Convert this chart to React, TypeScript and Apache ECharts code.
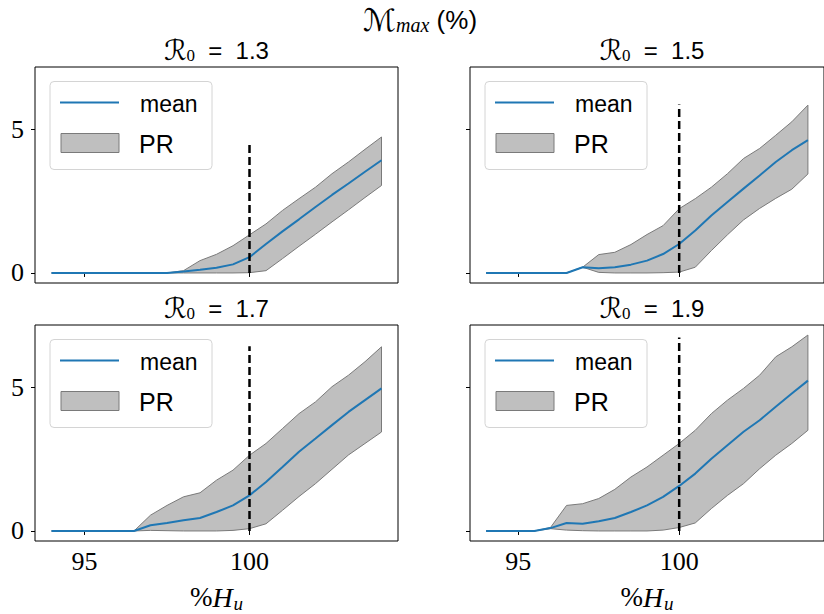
import React, { useEffect, useRef } from "react";
import * as echarts from "echarts";

// x values: %H_u
const xs = [94, 94.5, 95, 95.5, 96, 96.5, 97, 97.5, 98, 98.5, 99, 99.5, 100, 100.5, 101, 101.5, 102, 102.5, 103, 103.5, 104];

// R0 = 1.3
const mean13 = [0, 0, 0, 0, 0, 0, 0, 0, 0.05, 0.11, 0.18, 0.3, 0.55, 1.01, 1.45, 1.87, 2.3, 2.72, 3.12, 3.53, 3.93];
const hi13 = [0, 0, 0, 0, 0, 0, 0, 0, 0.08, 0.43, 0.65, 0.95, 1.33, 1.71, 2.18, 2.59, 2.99, 3.46, 3.87, 4.31, 4.74];
const lo13 = [0, 0, 0, 0, 0, 0, 0, 0, 0, 0, 0, 0, 0.01, 0.08, 0.5, 0.93, 1.35, 1.78, 2.2, 2.63, 3.05];

// R0 = 1.5
const mean15 = [0, 0, 0, 0, 0, 0, 0.2, 0.16, 0.2, 0.29, 0.43, 0.66, 1.01, 1.48, 2.0, 2.47, 2.94, 3.4, 3.87, 4.28, 4.63];
const hi15 = [0, 0, 0, 0, 0, 0, 0.2, 0.64, 0.72, 0.99, 1.34, 1.65, 2.24, 2.59, 2.99, 3.46, 3.99, 4.34, 4.8, 5.27, 5.85];
const lo15 = [0, 0, 0, 0, 0, 0, 0.2, 0.02, 0, 0, 0, 0.01, 0.03, 0.2, 0.78, 1.33, 1.85, 2.25, 2.6, 2.92, 3.45];

// R0 = 1.7
const mean17 = [0, 0, 0, 0, 0, 0, 0.2, 0.28, 0.37, 0.45, 0.66, 0.89, 1.24, 1.71, 2.23, 2.76, 3.22, 3.69, 4.15, 4.56, 4.97];
const hi17 = [0, 0, 0, 0, 0, 0, 0.55, 0.89, 1.19, 1.33, 1.77, 2.12, 2.64, 3.05, 3.57, 4.09, 4.5, 5.03, 5.43, 5.9, 6.42];
const lo17 = [0, 0, 0, 0, 0, 0, 0.02, 0.01, 0, 0, 0, 0.02, 0.08, 0.25, 0.72, 1.2, 1.65, 2.15, 2.65, 3.05, 3.45];

// R0 = 1.9
const mean19 = [0, 0, 0, 0, 0.1, 0.28, 0.25, 0.34, 0.45, 0.66, 0.89, 1.19, 1.57, 2.0, 2.52, 2.99, 3.46, 3.86, 4.33, 4.79, 5.24];
const hi19 = [0, 0, 0, 0, 0.12, 0.89, 0.95, 1.13, 1.45, 1.88, 2.23, 2.64, 3.05, 3.51, 4.09, 4.56, 4.97, 5.43, 6.07, 6.42, 6.83];
const lo19 = [0, 0, 0, 0, 0.08, 0.03, 0.01, 0, 0, 0, 0, 0.03, 0.12, 0.28, 0.78, 1.24, 1.65, 2.17, 2.64, 3.05, 3.51];

const r0Labels = ["1.3", "1.5", "1.7", "1.9"];
const means = [mean13, mean15, mean17, mean19];
const highs = [hi13, hi15, hi17, hi19];
const lows = [lo13, lo15, lo17, lo19];
const vlineX = 100;
const vlineTop = [4.6, 5.87, 6.44, 6.74];

const xTicks = [95, 100];
const yTicks = [0, 5];

const grids = [
  { left: 35, top: 67, width: 363, height: 216 },
  { left: 470, top: 67, width: 364, height: 216 },
  { left: 35, top: 325, width: 363, height: 217 },
  { left: 470, top: 325, width: 364, height: 217 },
];

const SANS = "'Liberation Sans', Arial, sans-serif";
const SERIF = "'Liberation Serif', 'DejaVu Serif', serif";
const SYM = "'DejaVu Sans', 'DejaVu Serif', sans-serif";

export default function App() {
  const ref = useRef<HTMLDivElement>(null);

  useEffect(() => {
    const chart = echarts.init(ref.current!, null, { renderer: "svg" });

    const xAxes: any[] = [];
    const yAxes: any[] = [];
    const series: any[] = [];
    const graphics: any[] = [];

    grids.forEach((g, i) => {
      const bottomRow = i >= 2;
      const leftCol = i % 2 === 0;
      xAxes.push({
        type: "value",
        gridIndex: i,
        min: 93.5,
        max: 104.5,
        axisLine: { show: false },
        splitLine: { show: false },
        axisTick: { show: true, customValues: xTicks, length: 4, lineStyle: { color: "#000", width: 1 } },
        axisLabel: {
          show: bottomRow,
          customValues: xTicks,
          fontFamily: SERIF,
          fontSize: 26,
          color: "#000",
          margin: 7,
        },
        name: bottomRow ? "{p|%}{h|H}{s|u}" : "",
        nameLocation: "middle",
        nameGap: 40,
        nameTextStyle: {
          rich: {
            p: { fontFamily: SERIF, fontSize: 27, color: "#000" },
            h: { fontFamily: SERIF, fontStyle: "italic", fontSize: 28, color: "#000" },
            s: { fontFamily: SERIF, fontStyle: "italic", fontSize: 19, color: "#000", padding: [13, 0, 0, 1] },
          },
        },
      });
      yAxes.push({
        type: "value",
        gridIndex: i,
        min: -0.35,
        max: 7.18,
        axisLine: { show: false },
        splitLine: { show: false },
        axisTick: { show: true, customValues: yTicks, length: 4, lineStyle: { color: "#000", width: 1 } },
        axisLabel: {
          show: leftCol,
          customValues: yTicks,
          fontFamily: SERIF,
          fontSize: 26,
          color: "#000",
          margin: 11,
        },
      });

      const lo = lows[i];
      const hi = highs[i];
      series.push({
        type: "custom",
        xAxisIndex: i,
        yAxisIndex: i,
        silent: true,
        data: xs.map((x, j) => [x, lo[j], hi[j]]),
        encode: { x: 0, y: [1, 2] },
        renderItem: (params: any, api: any) => {
          if (params.dataIndex !== 0) return null;
          const top = xs.map((x, j) => api.coord([x, hi[j]]));
          const bot = xs.map((x, j) => api.coord([x, lo[j]])).reverse();
          return {
            type: "polygon",
            shape: { points: top.concat(bot) },
            style: { fill: "#bfbfbf", stroke: "#7a7a7a", lineWidth: 1 },
          };
        },
        z: 1,
      });
      series.push({
        type: "line",
        xAxisIndex: i,
        yAxisIndex: i,
        data: xs.map((x, j) => [x, means[i][j]]),
        symbol: "none",
        lineStyle: { color: "#1f77b4", width: 2 },
        silent: true,
        z: 2,
      });
      series.push({
        type: "line",
        xAxisIndex: i,
        yAxisIndex: i,
        data: [
          [vlineX, 0],
          [vlineX, vlineTop[i]],
        ],
        symbol: "none",
        lineStyle: { color: "#000", width: 2.5, type: [8, 4] },
        silent: true,
        z: 3,
      });

      // subplot title
      graphics.push({
        type: "text",
        x: g.left + g.width / 2,
        y: g.top - 17,
        style: {
          text: `{r|ℛ}{s|0}{t|  =  ${r0Labels[i]}}`,
          align: "center",
          verticalAlign: "middle",
          rich: {
            r: { fontFamily: SYM, fontStyle: "italic", fontSize: 28, fill: "#000" },
            s: { fontFamily: SERIF, fontSize: 17, fill: "#000", padding: [11, 0, 0, 0] },
            t: { fontFamily: SANS, fontSize: 24, fill: "#000" },
          },
        },
      });

      // legend
      const lx = g.left + 15;
      const ly = g.top + 14.5;
      graphics.push({
        type: "group",
        x: lx,
        y: ly,
        z: 100,
        children: [
          {
            type: "rect",
            shape: { x: 0, y: 0, width: 162, height: 88, r: 4 },
            style: { fill: "rgba(255,255,255,0.8)", stroke: "#d4d4d4", lineWidth: 1 },
          },
          {
            type: "line",
            shape: { x1: 10, y1: 21, x2: 69, y2: 21 },
            style: { stroke: "#1f77b4", lineWidth: 2 },
          },
          {
            type: "text",
            x: 90,
            y: 22,
            style: { text: "mean", fontFamily: SANS, fontSize: 23, fill: "#000", verticalAlign: "middle" },
          },
          {
            type: "rect",
            shape: { x: 11, y: 52, width: 58, height: 19 },
            style: { fill: "#bfbfbf", stroke: "#7a7a7a", lineWidth: 1 },
          },
          {
            type: "text",
            x: 89,
            y: 62,
            style: { text: "PR", fontFamily: SANS, fontSize: 25, fill: "#000", verticalAlign: "middle" },
          },
        ],
      });
    });

    // main title
    graphics.push({
      type: "text",
      x: 420,
      y: 20,
      style: {
        text: "{m|ℳ}{s|max}{t| (%)}",
        align: "center",
        verticalAlign: "middle",
        rich: {
          m: { fontFamily: SYM, fontStyle: "italic", fontSize: 31, fill: "#000" },
          s: { fontFamily: SERIF, fontStyle: "italic", fontSize: 20, fill: "#000", padding: [10, 0, 0, 0] },
          t: { fontFamily: SANS, fontSize: 26, fill: "#000" },
        },
      },
    });

    chart.setOption({
      animation: false,
      backgroundColor: "#fff",
      grid: grids.map((g) => ({ ...g, show: true, borderColor: "#000", borderWidth: 1, backgroundColor: "transparent" })),
      xAxis: xAxes,
      yAxis: yAxes,
      series,
      graphic: graphics,
    });

    return () => chart.dispose();
  }, []);

  return <div ref={ref} style={{ position: "fixed", left: 0, top: 0, width: 824, height: 614 }} />;
}
